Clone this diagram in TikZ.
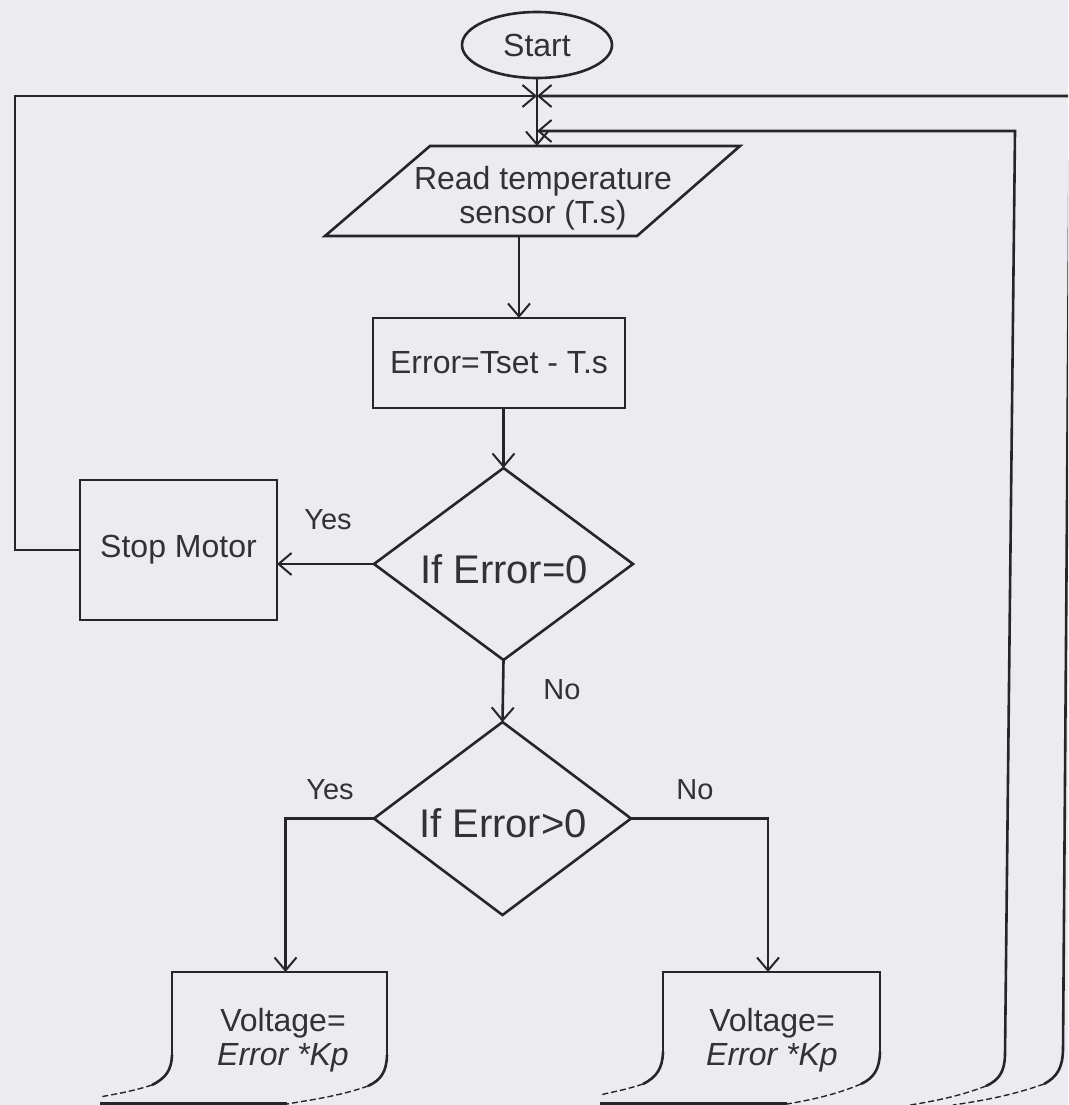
\documentclass[tikz,border=0pt]{standalone}
\usepackage{fontspec}
\setmainfont{Liberation Sans}
\usetikzlibrary{arrows.meta,shapes.geometric,calc}
\definecolor{bg}{RGB}{236,235,240}
\definecolor{ink}{RGB}{38,38,40}
\definecolor{txt}{RGB}{50,50,52}
\begin{document}
\begin{tikzpicture}[x=1pt,y=-1pt]
\tikzset{
  ln/.style={draw=ink, line width=2.6pt, line join=miter},
  arr/.style={ln, -{Straight Barb[length=13pt,width=22pt,line width=2pt]}},
  wavy/.style={draw=ink, line width=1.4pt, dash pattern=on 6pt off 3pt},
  band/.style={draw=ink, line width=4pt},
  body/.style={text=txt, font=\fontsize{32}{34}\selectfont, align=center, inner sep=0pt},
  big/.style={text=txt, font=\fontsize{40}{44}\selectfont, inner sep=0pt},
  lab/.style={text=txt, font=\fontsize{29}{32}\selectfont, inner sep=0pt},
  frame/.style={rectangle, inner sep=0pt, outer sep=0pt},
  boxed/.style={frame, draw=ink, line width=2.6pt},
}
\fill[bg] (0,0) rectangle (1068,1105);
\useasboundingbox (0,0) rectangle (1068,1105);
\begin{scope}
\clip (0,0) rectangle (1068,1105);

% nodes
\node[ellipse, draw=ink, line width=2.6pt, minimum width=150pt, minimum height=66pt, body] (start) at (537,45) {Start};
\coordinate (j1) at (537,96);
\coordinate (j2) at (537,131);

\node[frame, minimum width=415pt, minimum height=90pt] (read) at (532.5,191) {};
\draw[ln] (read.south west) -- ++(312,0) -- (read.north east) -- ++(-310,0) -- cycle;
\node[body] (readtxt) at (543,198) {Read temperature\\sensor (T.s)};

\node[boxed, minimum width=252pt, minimum height=90pt, body] (err) at (499,363) {Error=Tset - T.s};

\node[frame, minimum width=259pt, minimum height=192pt] (d1) at (503.5,564) {};
\draw[ln] (d1.north) -- (d1.east) -- (d1.south) -- (d1.west) -- cycle;
\node[big] (d1t) at (504,569) {If Error=0};

\node[boxed, minimum width=197pt, minimum height=140pt, body] (stop) at (178.5,550) {Stop Motor};

\node[frame, minimum width=257pt, minimum height=193pt] (d2) at (502.5,818.5) {};
\draw[ln] (d2.north) -- (d2.east) -- (d2.south) -- (d2.west) -- cycle;
\node[big] (d2t) at (503,823) {If Error>0};

\node[lab] (y1) at (328,520) {Yes};
\node[lab] (n1) at (562,690) {No};
\node[lab] (y2) at (330,790) {Yes};
\node[lab] (n2) at (695,790) {No};

% document shapes (bottoms cut off)
\node[frame, minimum width=215pt, minimum height=133pt] (v1) at (279.5,1038.5) {};
\node[body] (v1t) at (283,1040) {Voltage=\\\textit{Error *Kp}};
\draw[ln] (172,1055) -- (172,972) -- (387,972) -- (387,1055);
\draw[ln] (387,1055) .. controls (386.5,1072) and (381,1080) .. (368,1086);
\draw[wavy] (368,1086) .. controls (340,1096) and (310,1100) .. (287,1104);
\draw[ln] (172,1055) .. controls (171.5,1070) and (166,1078) .. (152,1085);
\draw[wavy] (152,1085) .. controls (130,1092) and (115,1094) .. (100,1097);
\draw[band] (100,1104) -- (287,1104);

\node[frame, minimum width=217pt, minimum height=133pt] (v2) at (771.5,1038.5) {};
\node[body] (v2t) at (772,1040) {Voltage=\\\textit{Error *Kp}};
\draw[ln] (663,1052) -- (663,972) -- (880,972) -- (880,1052);
\draw[ln] (880,1052) .. controls (879.5,1069) and (874,1078) .. (861,1084);
\draw[wavy] (861,1084) .. controls (835,1095) and (810,1100) .. (787,1104);
\draw[ln] (663,1052) .. controls (662.5,1068) and (657,1077) .. (643,1084);
\draw[wavy] (643,1084) .. controls (625,1090) and (612,1092) .. (600,1095);
\draw[band] (600,1104) -- (787,1104);

% connectors
\draw[ln] (start.south) -- (j1);
\draw[ln] (j1) -- (j2);
\draw[arr] (j2) -- (j2 |- read.north);
\draw[arr] ([xshift=-13.5pt]read.south) -- ([xshift=-13.5pt]read.south |- err.north);
\draw[arr] (d1.north |- err.south) -- (d1.north);
\draw[arr] (d1.west) -- (d1.west -| stop.east);
\coordinate (lc) at (15,96);
\draw[arr] (stop.west) -| (lc) -- (j1);
\draw[arr] (d1.south) -- (d2.north);
\draw[arr] (d2.west) -| ([xshift=6pt]v1.north);
\draw[arr] (d2.east) -| ([xshift=-3.5pt]v2.north);

% return loops on the right
\coordinate (r1b) at (1005,1055);
\coordinate (r1t) at (1015,131);
\draw[arr] (r1b) -- (r1t) -- (j2);
\draw[ln] (r1b) .. controls (1004.5,1072) and (999,1080) .. (986,1086);
\draw[wavy] (986,1086) .. controls (960,1096) and (935,1101) .. (910,1105);

\coordinate (r2b) at (1063,1050);
\coordinate (r2t) at (1070,96);
\draw[arr] (r2b) -- (r2t) -- (j1);
\draw[ln] (r2b) .. controls (1062.5,1068) and (1057,1077) .. (1044,1084);
\draw[wavy] (1044,1084) .. controls (1010,1096) and (980,1101) .. (953,1105);
\end{scope}
\end{tikzpicture}
\end{document}
